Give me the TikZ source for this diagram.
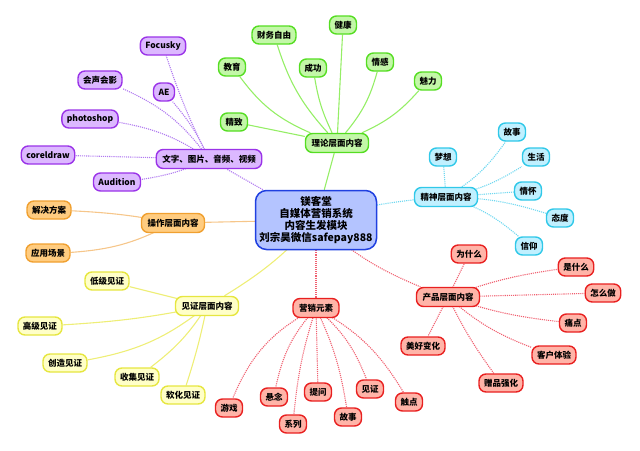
\documentclass[tikz,border=0pt]{standalone}
\usepackage{fontspec}
\setmainfont{Noto Sans CJK SC}
\usetikzlibrary{backgrounds}
\definecolor{gF}{HTML}{C3F7A8}\definecolor{gB}{HTML}{55DD22}\definecolor{gE}{HTML}{95EE66}
\definecolor{pF}{HTML}{DCB8FF}\definecolor{pB}{HTML}{9A33E8}\definecolor{pE}{HTML}{B07AF0}
\definecolor{oF}{HTML}{FFCC80}\definecolor{oB}{HTML}{F0A030}\definecolor{oE}{HTML}{F6C68A}
\definecolor{yF}{HTML}{FFFFC8}\definecolor{yB}{HTML}{E6E640}\definecolor{yE}{HTML}{EEEE77}
\definecolor{rF}{HTML}{FFB4A8}\definecolor{rB}{HTML}{E82020}\definecolor{rE}{HTML}{F06070}
\definecolor{cF}{HTML}{C0F0FF}\definecolor{cB}{HTML}{30C8E8}\definecolor{cE}{HTML}{70D8F0}
\definecolor{mF}{HTML}{B4C4FF}\definecolor{mB}{HTML}{2040E0}
\tikzset{
  leaf/.style={rounded corners=7pt,line width=1.4pt,inner xsep=5pt,inner ysep=0pt,
    minimum height=18pt,font=\fontsize{8.5}{10}\selectfont\bfseries},
  gn/.style={leaf,draw=gB,fill=gF}, pn/.style={leaf,draw=pB,fill=pF},
  on/.style={leaf,draw=oB,fill=oF}, yn/.style={leaf,draw=yB,fill=yF},
  rn/.style={leaf,draw=rB,fill=rF}, cn/.style={leaf,draw=cB,fill=cF},
  hub/.style={minimum height=19pt,inner xsep=6pt},
  ge/.style={draw=gE,line width=1.1pt}, pe/.style={draw=pE,line width=1.1pt,densely dotted},
  oe/.style={draw=oE,line width=1.1pt}, ye/.style={draw=yE,line width=1.1pt},
  re/.style={draw=rE,line width=1.1pt,densely dotted}, ce/.style={draw=cE,line width=1.1pt,densely dotted},
}
\begin{document}
\begin{tikzpicture}[x=1pt,y=-1pt]
\useasboundingbox (0,0) rectangle (640,450);
\node[draw=mB,fill=mF,line width=1.5pt,rounded corners=11pt,minimum width=121pt,minimum height=59pt,
  align=center,font=\fontsize{10.5}{12}\selectfont\bfseries] (m) at (316,220)
  {镁客堂\\自媒体营销系统\\内容生发模块\\刘宗昊微信safepay888};
% green
\node[gn,hub] (g) at (337,143) {理论层面内容};
\node[gn] (g1) at (343,25) {健康};
\node[gn] (g2) at (274,35) {财务自由};
\node[gn] (g3) at (232,67) {教育};
\node[gn] (g4) at (313,68) {成功};
\node[gn] (g5) at (380,62) {情感};
\node[gn] (g6) at (428,81) {魅力};
\node[gn] (g7) at (234,122) {精致};
% purple
\node[pn,hub] (p) at (209,159) {文字、图片、音频、视频};
\node[pn] (p1) at (163,46) {Focusky};
\node[pn] (p2) at (100,80) {会声会影};
\node[pn] (p3) at (164,92) {AE};
\node[pn] (p4) at (90,119) {photoshop};
\node[pn] (p5) at (48,155) {coreldraw};
\node[pn] (p6) at (117,182) {Audition};
% orange
\node[on,hub] (o) at (173,223) {操作层面内容};
\node[on] (o1) at (49,210) {解决方案};
\node[on] (o2) at (48,253) {应用场景};
% yellow
\node[yn,hub] (y) at (207,306) {见证层面内容};
\node[yn] (y1) at (107,281) {低级见证};
\node[yn] (y2) at (40,326) {高级见证};
\node[yn] (y3) at (65,363) {创造见证};
\node[yn] (y4) at (137,377) {收集见证};
\node[yn] (y5) at (183,395) {软化见证};
% red marketing
\node[rn,hub] (r) at (316,308) {营销元素};
\node[rn] (r1) at (229,408) {游戏};
\node[rn] (r2) at (274,397) {悬念};
\node[rn] (r3) at (293,424) {系列};
\node[rn] (r4) at (318,392) {提问};
\node[rn] (r5) at (348,417) {故事};
\node[rn] (r6) at (370,389) {见证};
\node[rn] (r7) at (409,402) {触点};
% product
\node[rn,hub] (q) at (448,297) {产品层面内容};
\node[rn] (q1) at (469,254) {为什么};
\node[rn] (q2) at (576,267) {是什么};
\node[rn] (q3) at (603,293) {怎么做};
\node[rn] (q4) at (573,323) {痛点};
\node[rn] (q5) at (554,355) {客户体验};
\node[rn] (q6) at (423,346) {美好变化};
\node[rn] (q7) at (501,383) {赠品强化};
% cyan
\node[cn,hub] (c) at (446,197) {精神层面内容};
\node[cn] (c1) at (443,157) {梦想};
\node[cn] (c2) at (512,132) {故事};
\node[cn] (c3) at (536,157) {生活};
\node[cn] (c4) at (528,191) {情怀};
\node[cn] (c5) at (560,218) {态度};
\node[cn] (c6) at (529,246) {信仰};
\begin{scope}[on background layer]
\draw[ge] (m) -- (g);
\draw[ge] (g) -- (g1);
\draw[ge] (g) to[bend left=12] (g2);
\draw[ge] (g) to[bend left=15] (g3);
\draw[ge] (g) to[bend left=8] (g4);
\draw[ge] (g) to[bend right=12] (g5);
\draw[ge] (g) to[bend right=12] (g6);
\draw[ge] (g) -- (g7);
\draw[pe] (m) -- (p);
\draw[pe] (p.center) to[bend left=4] (p1);
\draw[pe] (p.center) to[bend right=15] (p2);
\draw[pe] (p.center) to[bend right=8] (p3);
\draw[pe] (p.center) to[bend right=12] (p4);
\draw[pe] (p.center) -- (p5);
\draw[pe] (p.center) to[bend left=8] (p6);
\draw[oe] (m) -- (o);
\draw[oe] (o.center) to[bend right=4] (o1);
\draw[oe] (o.center) to[bend left=12] (o2);
\draw[ye] (m.center) to[bend left=8] (y);
\draw[ye] (y.center) -- (y1);
\draw[ye] (y.center) to[bend left=4] (y2);
\draw[ye] (y.center) to[bend left=14] (y3);
\draw[ye] (y.center) to[bend left=10] (y4);
\draw[ye] (y.center) to[bend left=3] (y5);
\draw[re] (m) -- (r);
\draw[re] (r.center) to[bend right=20] (r1);
\draw[re] (r.center) to[bend right=15] (r2);
\draw[re] (r.center) to[bend right=6] (r3);
\draw[re] (r.center) -- (r4);
\draw[re] (r.center) to[bend left=8] (r5);
\draw[re] (r.center) to[bend left=14] (r6);
\draw[re] (r.center) to[bend left=15] (r7);
\draw[re] (m.center) to[bend right=10] (q);
\draw[re] (q.center) -- (q1);
\draw[re] (q.center) to[bend left=6] (q2);
\draw[re] (q.center) -- (q3);
\draw[re] (q.center) to[bend right=6] (q4);
\draw[re] (q.center) to[bend right=10] (q5);
\draw[re] (q.center) -- (q6);
\draw[re] (q.center) to[bend right=5] (q7);
\draw[ce] (m.center) to[bend left=5] (c);
\draw[ce] (c.center) -- (c1);
\draw[ce] (c.center) to[bend right=12] (c2);
\draw[ce] (c.center) to[bend right=10] (c3);
\draw[ce] (c.center) -- (c4);
\draw[ce] (c.center) to[bend left=8] (c5);
\draw[ce] (c.center) to[bend left=12] (c6);
\end{scope}
\end{tikzpicture}
\end{document}
